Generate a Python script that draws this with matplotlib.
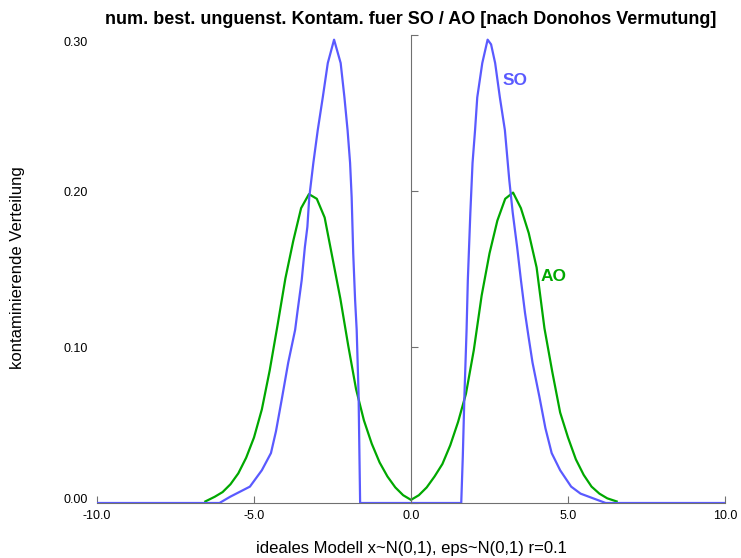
import numpy as np
import matplotlib
matplotlib.use("Agg")
import matplotlib.pyplot as plt
import matplotlib.transforms as mtrans

plt.rcParams['font.family'] = ['Liberation Sans', 'DejaVu Sans']

# AO curve (green)
ao_x = [-6.55, -6.25, -6.00, -5.75, -5.50, -5.25, -5.00, -4.75, -4.50, -4.25,
        -4.00, -3.75, -3.50, -3.25, -3.00, -2.75, -2.50, -2.25, -2.00, -1.75,
        -1.50, -1.25, -1.00, -0.75, -0.50, -0.25, 0.00, 0.25, 0.50, 0.75,
        1.00, 1.25, 1.50, 1.75, 2.00, 2.25, 2.50, 2.75, 3.00, 3.25,
        3.50, 3.75, 4.00, 4.25, 4.50, 4.75, 5.00, 5.25, 5.50, 5.75,
        6.00, 6.25, 6.55]
ao_y = [0.001, 0.004, 0.007, 0.012, 0.019, 0.029, 0.042, 0.060, 0.085, 0.114,
        0.144, 0.168, 0.189, 0.198, 0.195, 0.183, 0.157, 0.131, 0.101, 0.073,
        0.053, 0.038, 0.026, 0.017, 0.010, 0.005, 0.002, 0.005, 0.010, 0.017,
        0.025, 0.037, 0.052, 0.070, 0.098, 0.133, 0.160, 0.181, 0.195, 0.199,
        0.189, 0.173, 0.151, 0.112, 0.084, 0.058, 0.042, 0.028, 0.018, 0.0105,
        0.006, 0.003, 0.001]

# SO curve (blue)
so_x = [-10.0, -6.10, -5.76, -5.13, -4.75, -4.46, -4.30, -4.12, -3.91, -3.69,
        -3.62, -3.48, -3.38, -3.30, -3.24, -3.11, -2.97, -2.81, -2.65, -2.45,
        -2.24, -2.12, -2.02, -1.94, -1.89, -1.84, -1.78, -1.73, -1.67, -1.62,
        1.60, 1.65, 1.70, 1.77, 1.81, 1.89, 1.96, 2.04, 2.11, 2.27,
        2.44, 2.55, 2.68, 2.83, 2.99, 3.13, 3.24, 3.38, 3.50, 3.63,
        3.74, 3.87, 4.09, 4.28, 4.48, 4.75, 5.10, 5.40, 5.80, 6.20, 10.0]
so_y = [0.0, 0.0, 0.004, 0.0105, 0.021, 0.032, 0.046, 0.066, 0.090, 0.111,
        0.122, 0.143, 0.164, 0.177, 0.196, 0.218, 0.239, 0.260, 0.282, 0.297,
        0.282, 0.260, 0.239, 0.218, 0.196, 0.160, 0.130, 0.111, 0.070, 0.0,
        0.0, 0.030, 0.068, 0.111, 0.143, 0.186, 0.218, 0.239, 0.260, 0.282,
        0.297, 0.294, 0.282, 0.260, 0.239, 0.207, 0.186, 0.164, 0.143, 0.122,
        0.107, 0.090, 0.068, 0.048, 0.032, 0.021, 0.0105, 0.006, 0.003, 0.0, 0.0]

xticks = [-10, -5, 0, 5, 10]
xtick_labels = ["-10.0", "-5.0", "0.0", "5.0", "10.0"]
yticks = [0.0, 0.1, 0.2, 0.3]
ytick_labels = ["0.00", "0.10", "0.20", "0.30"]

blue = "#5a5aff"
green = "#00a800"
grey = "#707070"

fig = plt.figure(figsize=(7.41, 5.58), dpi=100)
ax = fig.add_axes([97 / 741, 55 / 558, 628 / 741, 468 / 558])

ax.plot(ao_x, ao_y, color=green, lw=1.6)
ax.plot(so_x, so_y, color=blue, lw=1.6)

ax.set_xlim(-10, 10)
ax.set_ylim(0, 0.3)

for s in ["top", "right"]:
    ax.spines[s].set_visible(False)
ax.spines["bottom"].set_color(grey)
ax.spines["left"].set_position(("data", 0))
ax.spines["left"].set_color(grey)

ax.set_xticks(xticks)
ax.set_xticklabels(xtick_labels)
ax.tick_params(axis="x", direction="in", length=5, color=grey, labelsize=9, pad=5)
ax.set_yticks(yticks)
ax.tick_params(axis="y", direction="in", length=5, color=grey, labelleft=False)

# y tick labels sit at the left margin; the end ones are pulled inside a little
trans = mtrans.blended_transform_factory(ax.transAxes, ax.transData)
label_nudge = [3, -2, -2, -8]
for v, lab, dy in zip(yticks, ytick_labels, label_nudge):
    ax.text(-0.014, v, lab, transform=trans + mtrans.ScaledTranslation(0, dy / 100, fig.dpi_scale_trans),
            ha="right", va="center", fontsize=9)

ax.text(3.3, 0.271, "SO", color=blue, fontsize=12.5, fontweight="bold", ha="center", va="center")
ax.text(4.55, 0.145, "AO", color=green, fontsize=12.5, fontweight="bold", ha="center", va="center")

ax.set_title("num. best. unguenst. Kontam. fuer SO / AO [nach Donohos Vermutung]",
             fontsize=13, fontweight="bold", pad=8)
fig.text(411 / 741, 1 - 548 / 558, "ideales Modell x~N(0,1), eps~N(0,1) r=0.1",
         fontsize=12, ha="center", va="center")
fig.text(18 / 741, 1 - 268 / 558, "kontaminierende Verteilung", fontsize=12,
         rotation=90, ha="center", va="center")

fig.savefig("out.png", dpi=100)
